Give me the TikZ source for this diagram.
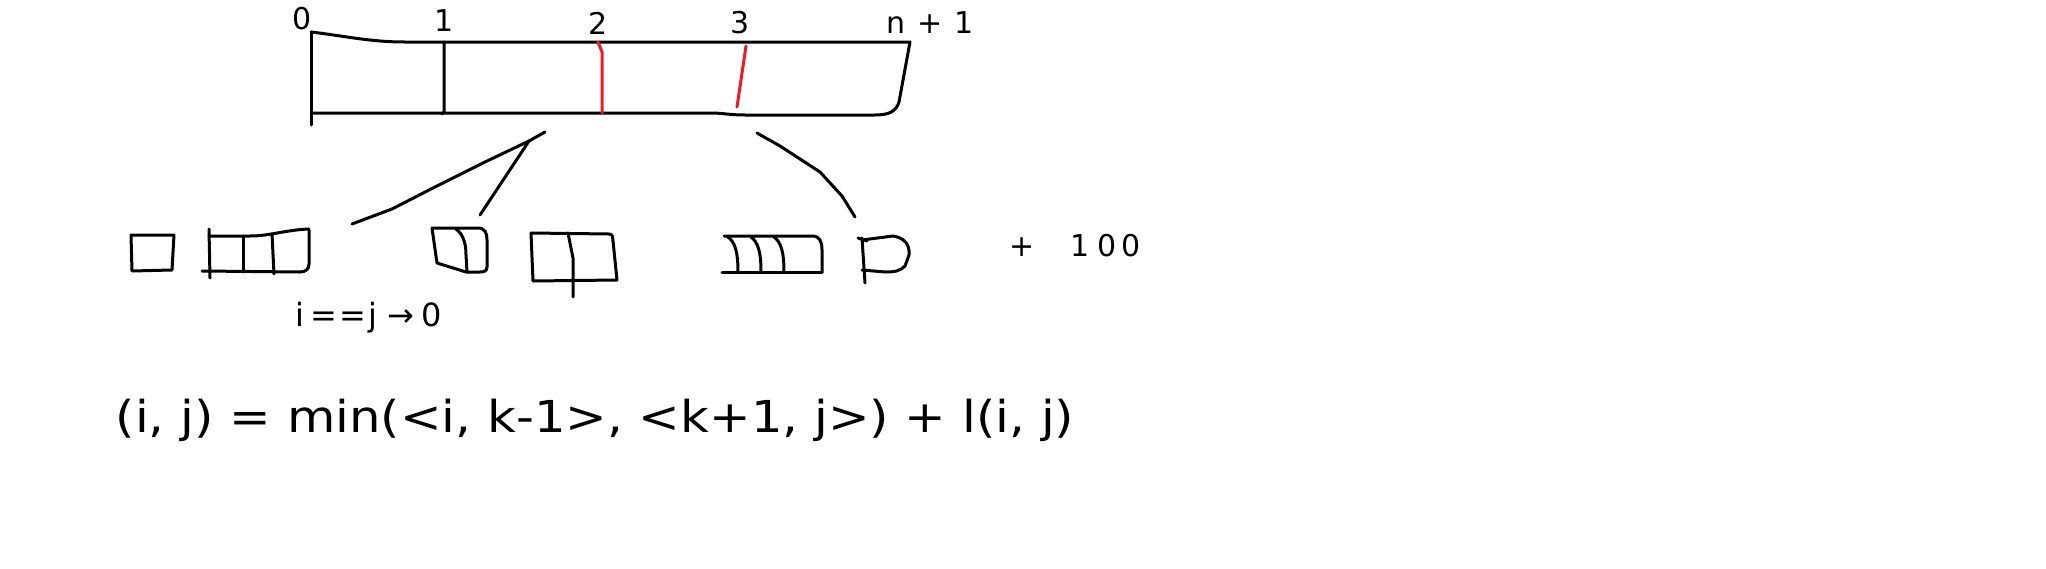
\documentclass[tikz,border=0pt]{standalone}
\usepackage{fontspec}
\setmainfont{DejaVu Sans}
\usepackage{graphicx}
\definecolor{paintred}{RGB}{237,28,36}
\begin{document}
\begin{tikzpicture}[x=1pt,y=-1pt,
  ink/.style={line width=3pt,line cap=round,line join=round,draw=black},
  redink/.style={ink,draw=paintred},
  lbl/.style={inner sep=0pt,font=\fontsize{30}{34}\selectfont},
  midlbl/.style={inner sep=0pt,font=\fontsize{32}{36}\selectfont},
  biglbl/.style={inner sep=0pt,font=\fontsize{44}{50}\selectfont}]
\fill[white] (0,0) rectangle (2046,568);
\useasboundingbox (0,0) rectangle (2046,568);

% main array
\draw[ink] (311,32) .. controls (345,36) and (370,42) .. (405,42) -- (910,42) -- (899,102)
  .. controls (896,112) and (888,115) .. (875,115) -- (745,115)
  .. controls (730,115) and (722,113) .. (712,113) -- (311,113);
\draw[ink] (311,32) -- (311,125);
\draw[ink] (444,42) -- (444,112) -- (442,114);
\draw[redink] (598,42) -- (602,52) -- (602,113);
\draw[redink] (746,46) -- (737,107);

\node[lbl] (l0) at (302,19) {0};
\node[lbl] (l1) at (444,21) {1};
\node[lbl] (l2) at (598,23) {2};
\node[lbl] (l3) at (740,23) {3};
\node[lbl] (ln) at (930,23) {n\hspace{12pt}+\hspace{12pt}1};

% tree connectors
\coordinate (tA) at (545,132);
\coordinate (tK) at (529,141);
\coordinate (tB) at (352,224);
\coordinate (tC) at (480,215);
\coordinate (tD) at (757,133);
\coordinate (tE) at (855,217);
\draw[ink] (tA) -- (tK) -- (485,162) -- (431,189) -- (392,209) -- (tB);
\draw[ink] (tK) -- (tC);
\draw[ink] (tD) -- (780,146) -- (820,172) -- (842,196) -- (tE);

% box 1
\draw[ink] (131,235) -- (174,235) -- (172,270) -- (132,271) -- cycle;
% box 2
\draw[ink] (209,229) -- (210,278);
\draw[ink] (202,271) -- (300,272) .. controls (306,272) and (309,269) .. (309,264) -- (309,230);
\draw[ink] (209,236) -- (250,236) .. controls (270,236) and (285,230) .. (309,229);
\draw[ink] (243,236) -- (243,272);
\draw[ink] (272,234) -- (274,274);
% box 3
\draw[ink] (432,228) -- (478,228) .. controls (485,228) and (487,233) .. (487,240) -- (487,267)
  .. controls (487,271) and (484,272) .. (480,272) -- (466,272) -- (437,263) -- cycle;
\draw[ink] (456,229) .. controls (464,235) and (466,245) .. (466,255) -- (467,272);
% box 4
\draw[ink] (531,233) -- (609,234) .. controls (613,234) and (613,238) .. (613,241) -- (617,280) -- (533,281) -- cycle;
\draw[ink] (568,233) -- (573,258) -- (573,297);
% box 5
\draw[ink] (724,236) -- (812,236) .. controls (820,236) and (822,242) .. (822,250) -- (822,272);
\draw[ink] (722,272) -- (822,272);
\draw[ink] (728,237) .. controls (735,242) and (738,252) .. (738,272);
\draw[ink] (751,237) .. controls (758,242) and (761,252) .. (761,272);
\draw[ink] (774,237) .. controls (781,242) and (784,252) .. (784,272);
% box 6
\draw[ink] (862,238) -- (865,283);
\draw[ink] (858,238) -- (867,241);
\draw[ink] (862,240) -- (893,236) .. controls (905,238) and (910,245) .. (909,255) -- (905,266)
  .. controls (900,271) and (895,272) .. (885,272) -- (862,270);

\node[lbl] (plus) at (1075,246) {+\hspace{36pt}1\hspace{7pt}0\hspace{5pt}0};
\node[midlbl] (base) at (369,318) {i\hspace{6pt}=\hspace{2pt}=\hspace{2pt}j\hspace{10pt}→\hspace{8pt}0};
\node[biglbl] (rec) at (595,420) {\scalebox{1.13}[1]{(i, j) = min(<i, k-1>, <k+1, j>) + l(i, j)}};
\end{tikzpicture}
\end{document}
